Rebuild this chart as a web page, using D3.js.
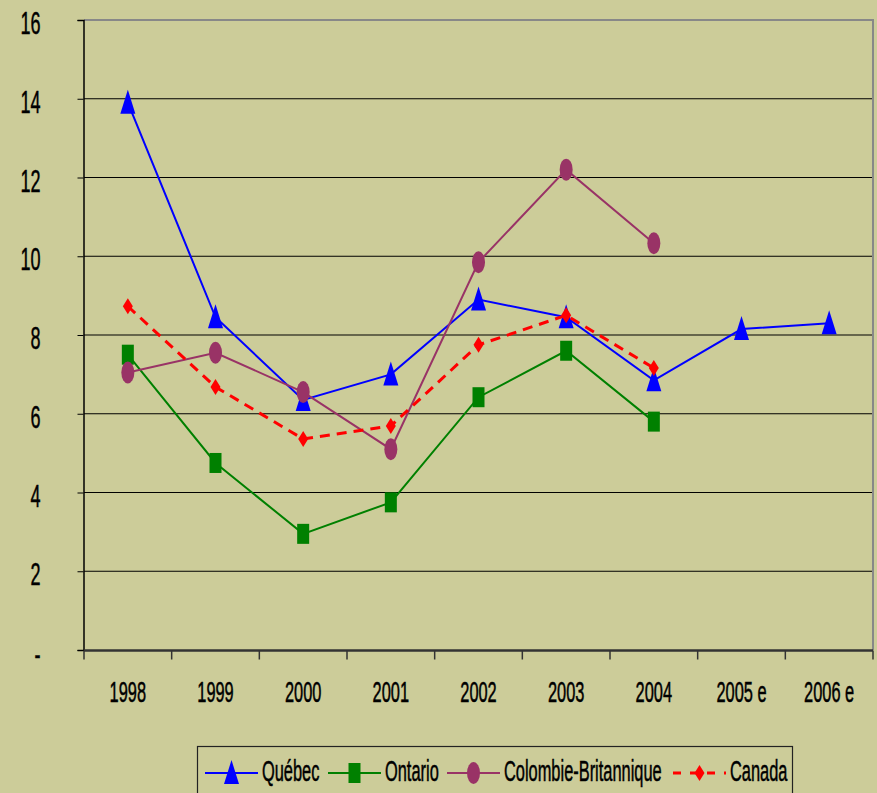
<!DOCTYPE html>
<html>
<head>
<meta charset="utf-8">
<script src="https://cdn.jsdelivr.net/npm/d3@7"></script>
<style>
  body { margin: 0; background: #cccc99; }
  svg { display: block; }
  text { font-family: "Liberation Sans", Arial, sans-serif; fill: #000; stroke: #000; stroke-width: 0.35; }
</style>
</head>
<body>
<script>
// data
const years = ["1998", "1999", "2000", "2001", "2002", "2003", "2004", "2005 e", "2006 e"];
const quebec = [13.9, 8.45, 6.35, 7.0, 8.9, 8.45, 6.85, 8.15, 8.3];
const ontario = [7.5, 4.75, 2.95, 3.75, 6.42, 7.6, 5.8, null, null];
const colombie = [7.05, 7.55, 6.55, 5.1, 9.85, 12.2, 10.33, null, null];
const canada = [8.73, 6.68, 5.36, 5.69, 7.75, 8.5, 7.16, null, null];
const yTicks = [0, 2, 4, 6, 8, 10, 12, 14, 16];

const W = 877, H = 793;
const svg = d3.select("body").append("svg").attr("width", W).attr("height", H);

svg.append("rect").attr("width", W).attr("height", H).attr("fill", "#cccc99");

let x = d3.scaleBand().domain(years).range([84, 873]);
let y = d3.scaleLinear().domain([0, 16]).range([650, 20]);

// narrow, tall text like the original (squeezed Arial)
function label(g, txt, anchor, size) {
  g.append("text")
    .attr("text-anchor", anchor)
    .attr("font-size", size || 20)
    .attr("dy", "0.36em")
    .attr("transform", "scale(0.82,1.45)")
    .text(txt)
}

// gridlines
svg.append("g").selectAll("line")
  .data(yTicks.filter(d => d > 0 && d < 16)).enter().append("line")
    .attr("x1", 84).attr("x2", 873)
    .attr("y1", d => y(d)).attr("y2", d => y(d))
    .attr("stroke", "#000").attr("stroke-width", 1.2)

// frame top + right (gray)
svg.append("path")
  .attr("d", `M84,${y(16)} H873 V${y(0)}`)
  .attr("fill", "none").attr("stroke", "#888").attr("stroke-width", 2)

// y axis
let yAxis = d3.axisLeft(y).tickValues(yTicks).tickSize(6).tickFormat("");
let gy = svg.append("g").attr("transform", "translate(83.5,0)").call(yAxis);
gy.select(".domain").attr("stroke", "#000").attr("stroke-width", 1.5);
gy.selectAll(".tick line").attr("stroke", "#000");
gy.selectAll(".tick text").remove();
gy.selectAll(".tick").each(function(d) {
  let g = d3.select(this).append("g").attr("transform", `translate(-43,${d == 0 ? 3 : 2})`);
  label(g, d == 0 ? "-" : d, "end", 22);
});

// x axis, ticks on band edges
let xAxisG = svg.append("g").attr("transform", "translate(0,650.5)");
xAxisG.append("line").attr("x1", 84).attr("x2", 873).attr("stroke", "#333").attr("stroke-width", 2.5);
xAxisG.selectAll(".edge").data(years.concat(["end"])).enter().append("line")
  .attr("class", "edge")
  .attr("x1", (d, i) => i < years.length ? x(d) : x.range()[1])
  .attr("x2", (d, i) => i < years.length ? x(d) : x.range()[1])
  .attr("y1", 0).attr("y2", 9)
  .attr("stroke", "#333").attr("stroke-width", 1.5)
years.forEach(d => {
  let g = xAxisG.append("g").attr("transform", `translate(${x(d) + x.bandwidth() / 2},41)`);
  label(g, d, "middle");
});

const series = [
  { name: "Québec", values: quebec, color: "#0000ff", width: 2, dash: null, shape: "tri" },
  { name: "Ontario", values: ontario, color: "#008000", width: 2, dash: null, shape: "sq" },
  { name: "Colombie-Britannique", values: colombie, color: "#993366", width: 2, dash: null, shape: "ell" },
  { name: "Canada", values: canada, color: "#ff0000", width: 3, dash: "10,7", shape: "dia" }
];

function marker(g, shape, color) {
  if (shape == "tri") g.append("path").attr("d", "M0,-13 L7.5,11 L-7.5,11 Z").attr("fill", color);
  if (shape == "sq") g.append("rect").attr("x", -6).attr("y", -10).attr("width", 12).attr("height", 20).attr("fill", color);
  if (shape == "ell") g.append("ellipse").attr("rx", 6.5).attr("ry", 11).attr("fill", color);
  if (shape == "dia") g.append("path").attr("d", "M0,-8 L5,0 L0,8 L-5,0 Z").attr("fill", color);
}

let line = d3.line()
  .defined(d => d.v != null)
  .x(d => x(d.k) + x.bandwidth() / 2)
  .y(d => y(d.v));

series.forEach(s => {
  let pts = years.map((k, i) => ({ k: k, v: s.values[i] }));
  svg.append("path")
    .attr("d", line(pts))
    .attr("fill", "none")
    .attr("stroke", s.color)
    .attr("stroke-width", s.width)
    .attr("stroke-dasharray", s.dash)
  pts.filter(d => d.v != null).forEach(d => {
    let g = svg.append("g").attr("transform", `translate(${x(d.k) + x.bandwidth() / 2},${y(d.v)})`);
    marker(g, s.shape, s.color);
  });
});

// legend
let leg = svg.append("g");
leg.append("rect").attr("x", 197.5).attr("y", 746.5).attr("width", 595).attr("height", 60)
  .attr("fill", "none").attr("stroke", "#222").attr("stroke-width", 1.2)
const legX = [205, 328, 447, 673];
series.forEach((s, i) => {
  let lg = leg.append("g").attr("transform", `translate(${legX[i]},773)`);
  lg.append("line").attr("x1", 0).attr("x2", 53)
    .attr("stroke", s.color).attr("stroke-width", s.width).attr("stroke-dasharray", s.dash ? "8,9" : null)
  let mg = lg.append("g").attr("transform", "translate(26.5,0)");
  marker(mg, s.shape, s.color);
  let tg = lg.append("g").attr("transform", "translate(57,-2)");
  label(tg, s.name, "start");
});
</script>
</body>
</html>
